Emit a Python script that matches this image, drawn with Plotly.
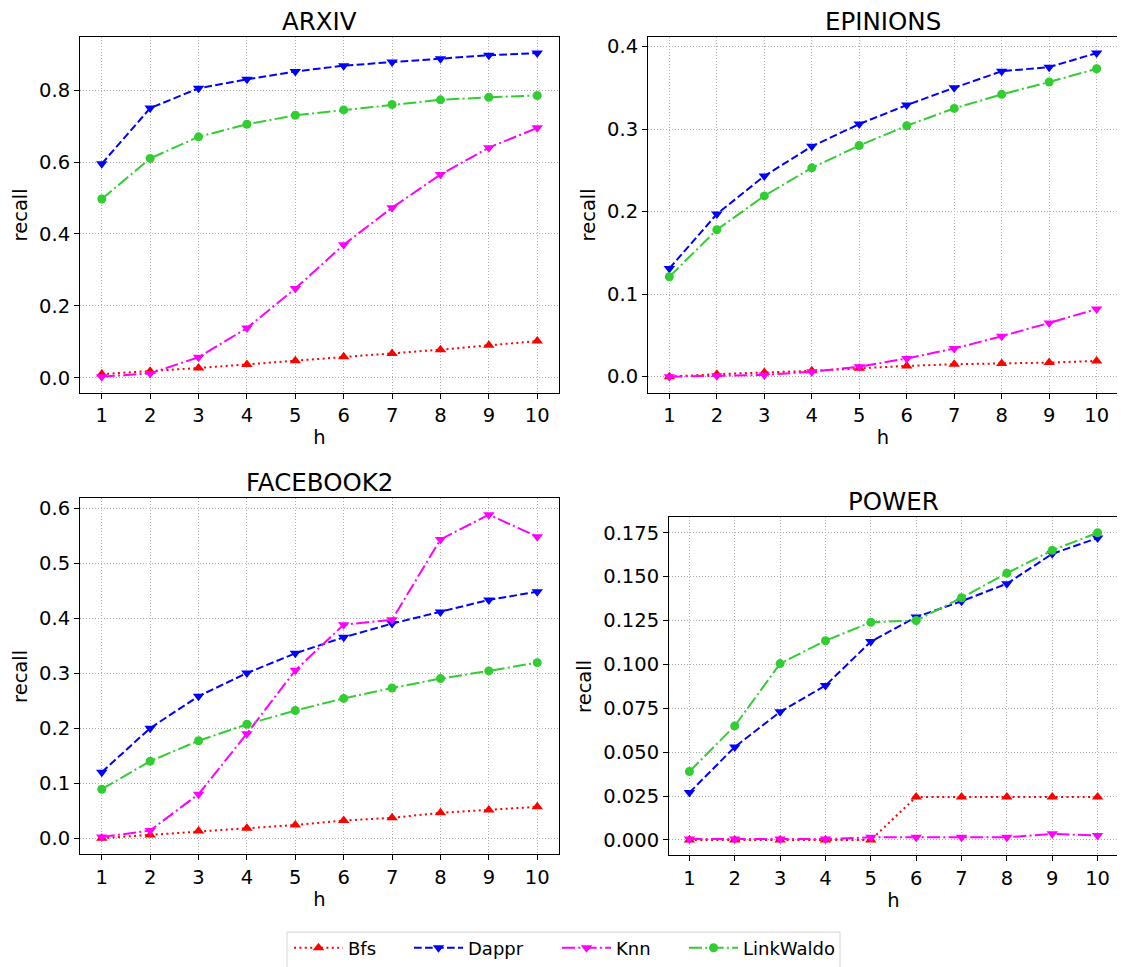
import plotly.graph_objects as go

h = [1, 2, 3, 4, 5, 6, 7, 8, 9, 10]
methods = ["Bfs", "Dappr", "Knn", "LinkWaldo"]
datasets = ["ARXIV", "EPINIONS", "FACEBOOK2", "POWER"]

arxiv_bfs = [0.010, 0.018, 0.027, 0.037, 0.047, 0.058, 0.067, 0.078, 0.090, 0.102]
arxiv_dappr = [0.595, 0.750, 0.805, 0.830, 0.852, 0.868, 0.878, 0.887, 0.897, 0.903]
arxiv_knn = [0.003, 0.012, 0.057, 0.138, 0.248, 0.370, 0.473, 0.565, 0.640, 0.695]
arxiv_linkwaldo = [0.497, 0.610, 0.670, 0.705, 0.730, 0.745, 0.760, 0.773, 0.780, 0.785]

epinions_bfs = [0.000, 0.003, 0.005, 0.007, 0.010, 0.013, 0.015, 0.016, 0.017, 0.019]
epinions_dappr = [0.131, 0.197, 0.243, 0.279, 0.306, 0.329, 0.350, 0.370, 0.375, 0.392]
epinions_knn = [0.000, 0.001, 0.002, 0.006, 0.012, 0.022, 0.034, 0.049, 0.065, 0.082]
epinions_linkwaldo = [0.121, 0.178, 0.219, 0.253, 0.280, 0.304, 0.325, 0.342, 0.357, 0.373]

facebook2_bfs = [0.000, 0.006, 0.013, 0.018, 0.024, 0.032, 0.037, 0.046, 0.051, 0.057]
facebook2_dappr = [0.120, 0.200, 0.258, 0.300, 0.336, 0.365, 0.390, 0.411, 0.433, 0.448]
facebook2_knn = [0.002, 0.014, 0.080, 0.190, 0.305, 0.388, 0.397, 0.543, 0.588, 0.548]
facebook2_linkwaldo = [0.089, 0.140, 0.177, 0.207, 0.232, 0.254, 0.273, 0.290, 0.304, 0.319]

power_bfs = [0.0, 0.0, 0.0, 0.0, 0.0, 0.0245, 0.0245, 0.0245, 0.0245, 0.0245]
power_dappr = [0.027, 0.053, 0.073, 0.088, 0.113, 0.127, 0.136, 0.146, 0.163, 0.172]
power_knn = [0.0005, 0.0005, 0.0005, 0.0005, 0.0015, 0.0015, 0.0015, 0.0015, 0.0035, 0.0025]
power_linkwaldo = [0.039, 0.065, 0.1005, 0.1135, 0.124, 0.125, 0.138, 0.152, 0.165, 0.175]

series = {
    "ARXIV": [arxiv_bfs, arxiv_dappr, arxiv_knn, arxiv_linkwaldo],
    "EPINIONS": [epinions_bfs, epinions_dappr, epinions_knn, epinions_linkwaldo],
    "FACEBOOK2": [facebook2_bfs, facebook2_dappr, facebook2_knn, facebook2_linkwaldo],
    "POWER": [power_bfs, power_dappr, power_knn, power_linkwaldo],
}

yticks = {
    "ARXIV": ([0.0, 0.2, 0.4, 0.6, 0.8], ".1f"),
    "EPINIONS": ([0.0, 0.1, 0.2, 0.3, 0.4], ".1f"),
    "FACEBOOK2": ([0.0, 0.1, 0.2, 0.3, 0.4, 0.5, 0.6], ".1f"),
    "POWER": ([0.0, 0.025, 0.05, 0.075, 0.1, 0.125, 0.15, 0.175], ".3f"),
}

# page body has an 8px margin; the figure is sized/positioned to compensate
OFF = 8
W, H = 1125 - OFF, 967 - OFF
# pixel boxes in window coordinates: left, right, top, bottom
boxes = {
    "ARXIV": (80, 559, 35, 392),
    "EPINIONS": (648, 1118, 35, 392),
    "FACEBOOK2": (80, 559, 498, 855),
    "POWER": (669, 1118, 517, 856),
}
# legend entry line-sample starts (window px)
legend_x = [299, 419, 567, 694]
legend_yc = 949
legend_box = (287, 840, 933, 975)

styles = [
    dict(color="#ff0000", dash="2px,3.4px", symbol="triangle-up"),
    dict(color="#0000ff", dash="7.7px,3.3px", symbol="triangle-down"),
    dict(color="#ff00ff", dash="13px,3.3px,2px,3.3px", symbol="triangle-down"),
    dict(color="#32cd32", dash="13px,3.3px,2px,3.3px", symbol="circle"),
]

FONT = "DejaVu Sans"
TICK = 19.5
fig = go.Figure()
layout = dict(
    width=W, height=H, margin=dict(l=0, r=0, t=0, b=0),
    paper_bgcolor="white", plot_bgcolor="white",
    font=dict(family=FONT, color="black", size=TICK),
    showlegend=True,
)
annotations = []
legend_names = ["legend", "legend2", "legend3", "legend4"]

for i, ds in enumerate(datasets):
    ax = "" if i == 0 else str(i + 1)
    l, r, t, b = [v - OFF for v in boxes[ds]]
    allv = [v for s in series[ds] for v in s]
    vmin, vmax = min(allv), max(allv)
    pad = (vmax - vmin) * 0.05
    for j, m in enumerate(methods):
        st = styles[j]
        fig.add_trace(go.Scatter(
            x=h, y=series[ds][j], name=m, mode="lines+markers",
            line=dict(color=st["color"], width=2, dash=st["dash"]),
            marker=dict(color=st["color"], size=10 if st["symbol"] != "circle" else 9,
                        symbol=st["symbol"], line=dict(width=0)),
            xaxis="x" + ax, yaxis="y" + ax, showlegend=(i == 0), legendgroup=m,
            legend=legend_names[j],
        ))
    tv, fmt = yticks[ds]
    common = dict(
        ticks="outside", ticklen=5, tickcolor="black",
        showline=True, mirror=True, linecolor="black", linewidth=1,
        showgrid=True, gridcolor="#b0b0b0", griddash="1px,2px", gridwidth=1,
        zeroline=False, tickfont=dict(size=TICK),
    )
    layout["xaxis" + ax] = dict(
        domain=[l / W, r / W], anchor="y" + ax, range=[0.55, 10.45],
        tickvals=h, title=dict(text="h", font=dict(size=TICK), standoff=4), **common,
    )
    layout["yaxis" + ax] = dict(
        domain=[1 - b / H, 1 - t / H], anchor="x" + ax, range=[vmin - pad, vmax + pad],
        tickvals=tv, tickformat=fmt,
        title=dict(text="recall", font=dict(size=TICK), standoff=6), **common,
    )
    annotations.append(dict(
        text=ds, x=(l + r) / 2 / W, y=1 - t / H, xref="paper", yref="paper",
        xanchor="center", yanchor="bottom", yshift=0, borderpad=0, showarrow=False,
        font=dict(size=24.5, family=FONT),
    ))

layout["annotations"] = annotations
for j, ln in enumerate(legend_names):
    layout[ln] = dict(
        orientation="h", x=(legend_x[j] - 10 - OFF) / W, xanchor="left",
        y=1 - (legend_yc - OFF) / H, yanchor="middle",
        borderwidth=0, bgcolor="rgba(0,0,0,0)", font=dict(size=18), itemwidth=49,
    )
bx0, bx1, by0, by1 = legend_box
layout["shapes"] = [dict(
    type="rect", xref="paper", yref="paper",
    x0=(bx0 - OFF) / W, x1=(bx1 - OFF) / W, y0=1 - (by1 - OFF) / H, y1=1 - (by0 - OFF) / H,
    line=dict(color="#d6d6d6", width=1), fillcolor="rgba(255,255,255,0.8)", layer="below",
)]
fig.update_layout(**layout)
fig.write_html("out.html")
